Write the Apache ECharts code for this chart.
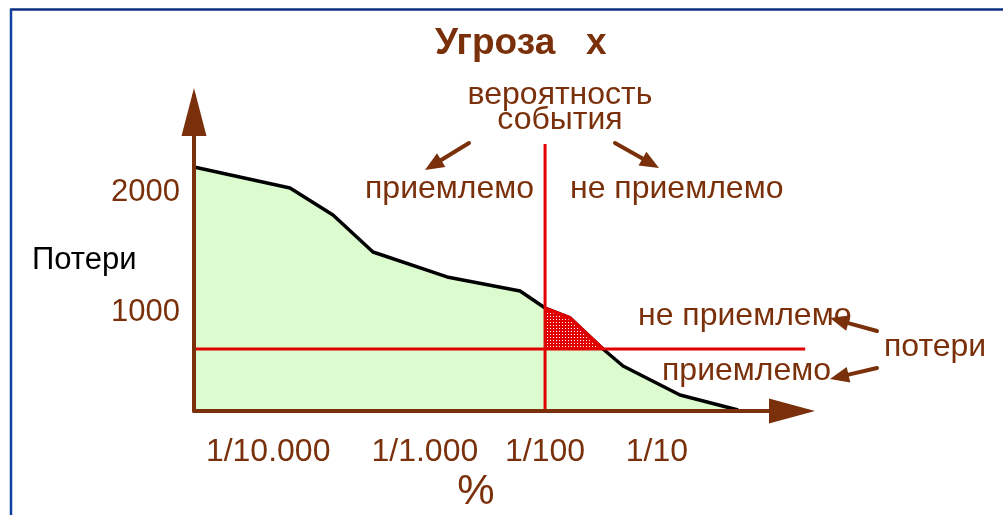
<!DOCTYPE html>
<html>
<head>
<meta charset="utf-8">
<script src="https://cdn.jsdelivr.net/npm/echarts@6/dist/echarts.min.js"></script>
<style>
  html, body { margin: 0; padding: 0; background: #fff; }
  #graph { width: 1003px; height: 515px; }
</style>
</head>
<body>
<div id="graph"></div>
<script>
// условная шкала вероятности и потери
var lossX = [0, 16.05, 23.24, 29.93, 42.31, 54.52, 58.7, 62.88, 68.39, 71.74, 81.27, 90.97];
var lossY = [2208, 2033, 1808, 1500, 1292, 1175, 1033, 950, 692, 550, 308, 183];
// неприемлемая зона (заштрихована)
var riskX = [58.7, 62.88, 68.39];
var riskY = [1033, 950, 692];
// пороги
var probLimit = 58.7;      // 1/100
var probLineTop = 2400;
var lossLimit = 692;
var lossLineEnd = 102.2;
// подписи осей
var xTickValues = [12.4, 38.6, 58.7, 77.4];
var xTickNames = ["1/10.000", "1/1.000", "1/100", "1/10"];
var yTickValues = [1000, 2000];
var xMin = 0, xMax = 102.5;
var yMin = 175, yMax = 2800;

var brown = '#7a300a';
var red = '#e00000';
var font = 'Liberation Sans, Arial, sans-serif';

var myChart = echarts.init(document.getElementById('graph'));

function pairs(xs, ys) {
  return xs.map(function (x, i) { return [x, ys[i]]; });
}

// штриховка
var hatch = document.createElement('canvas');
hatch.width = 3; hatch.height = 3;
var hctx = hatch.getContext('2d');
hctx.fillStyle = red;
hctx.fillRect(0, 0, 3, 3);
hctx.fillStyle = '#ffffff';
hctx.fillRect(1, 1, 1, 1);

// маленькие стрелки-указатели
function arrow(x1, y1, x2, y2) {
  var a = Math.atan2(y2 - y1, x2 - x1);
  var L = 19, W = 8;
  var bx = x2 - L * Math.cos(a), by = y2 - L * Math.sin(a);
  var s = Math.sin(a), c = Math.cos(a);
  return [
    { type: 'line', shape: { x1: x1, y1: y1, x2: bx, y2: by },
      style: { stroke: brown, lineWidth: 4, lineCap: 'round' } },
    { type: 'polygon', shape: { points: [[x2, y2], [bx + W * s, by - W * c], [bx - W * s, by + W * c]] },
      style: { fill: brown } }
  ];
}

function label(text, x, y, size, color, align) {
  return { type: 'text', x: x, y: y,
    style: { text: text, fill: color || brown, font: size + 'px ' + font,
      textAlign: align || 'left', textVerticalAlign: 'middle' } };
}

var graphics = [
  { type: 'line', shape: { x1: 10, y1: 9.5, x2: 1003, y2: 9.5 }, style: { stroke: '#0c2f7f', lineWidth: 2.5 } },
  { type: 'line', shape: { x1: 11, y1: 9, x2: 11, y2: 515 }, style: { stroke: '#1240a0', lineWidth: 2.5 } },
  label('вероятность', 560, 95, 32, brown, 'center'),
  label('события', 560, 120, 32, brown, 'center'),
  label('приемлемо', 365, 189, 32),
  label('не приемлемо', 570, 189, 32),
  label('не приемлемо', 638, 316, 32),
  label('приемлемо', 662, 371, 32),
  label('потери', 884, 347, 32),
  label('Потери', 32, 260, 31, '#000000'),
  label('%', 476, 492, 42, brown, 'center')
].concat(arrow(469, 143, 425, 170), arrow(615, 143, 659, 168),
         arrow(877, 331, 830, 318), arrow(877, 368, 830, 379));

var option = {
  animation: false,
  title: {
    text: 'Угроза   x',
    left: 430,
    top: 20,
    textStyle: { color: brown, fontSize: 37, fontWeight: 'bold', fontFamily: font }
  },
  grid: { left: 194, right: 196, top: 96, bottom: 104 },
  xAxis: {
    type: 'value',
    min: xMin,
    max: xMax,
    z: 10,
    splitLine: { show: false },
    axisTick: { show: false },
    axisLine: {
      show: true,
      symbol: ['none', 'triangle'],
      symbolSize: [25, 46],
      symbolOffset: [0, -15],
      lineStyle: { color: brown, width: 4 }
    },
    axisLabel: {
      customValues: xTickValues,
      margin: 25,
      color: brown,
      fontSize: 32,
      fontFamily: font,
      formatter: function (v) {
        var i = xTickValues.indexOf(v);
        return i >= 0 ? xTickNames[i] : '';
      }
    }
  },
  yAxis: {
    type: 'value',
    min: yMin,
    max: yMax,
    z: 10,
    splitLine: { show: false },
    axisTick: { show: false },
    axisLine: {
      show: true,
      symbol: ['none', 'triangle'],
      symbolSize: [25, 48],
      symbolOffset: [0, -16],
      lineStyle: { color: brown, width: 4 }
    },
    axisLabel: {
      customValues: yTickValues,
      margin: 14,
      color: brown,
      fontSize: 31,
      fontFamily: font,
      formatter: function (v) { return String(v); }
    }
  },
  series: [
    {
      name: 'потери',
      type: 'line',
      data: pairs(lossX, lossY),
      symbol: 'none',
      lineStyle: { color: '#000000', width: 3.5 },
      areaStyle: { color: '#dcfccf', opacity: 1, origin: 'start' },
      z: 2
    },
    {
      name: 'порог вероятности',
      type: 'line',
      data: [[probLimit, yMin], [probLimit, probLineTop]],
      symbol: 'none',
      lineStyle: { color: red, width: 3 },
      z: 3
    },
    {
      name: 'порог потерь',
      type: 'line',
      data: [[xMin, lossLimit], [lossLineEnd, lossLimit]],
      symbol: 'none',
      lineStyle: { color: red, width: 3 },
      z: 3
    },
    {
      name: 'неприемлемо',
      type: 'line',
      data: pairs(riskX, riskY),
      symbol: 'none',
      lineStyle: { color: red, width: 3.5 },
      areaStyle: { color: { image: hatch, repeat: 'repeat' }, opacity: 1, origin: lossLimit },
      z: 4
    }
  ],
  graphic: graphics
};
myChart.setOption(option);
window.addEventListener('resize', function () {
  myChart.resize();
});
</script>
</body>
</html>
